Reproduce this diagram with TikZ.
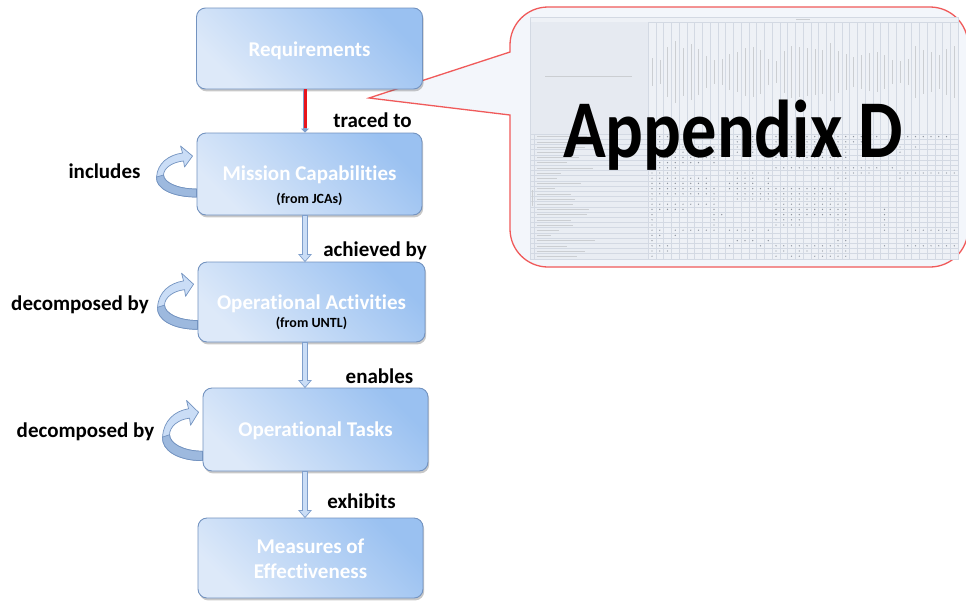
\documentclass[tikz,border=0pt]{standalone}
\usepackage{fontspec}
\setmainfont{Carlito}[Ligatures=NoCommon]
\usetikzlibrary{calc,shadows,arrows.meta}

\definecolor{boxdark}{HTML}{9AC1F1}
\definecolor{boxlight}{HTML}{DDE9F9}
\definecolor{boxline}{HTML}{7393C0}
\definecolor{calloutred}{HTML}{F05A5A}
\definecolor{calloutfill}{HTML}{F3F6FB}
\definecolor{gridline}{HTML}{D3D9E3}
\definecolor{tablefill}{HTML}{EEF1F6}
\definecolor{headfill}{HTML}{E6EAF1}
\definecolor{inkgray}{HTML}{8C929C}
\definecolor{arrowfill}{HTML}{CADDF6}
\definecolor{arrowline}{HTML}{7F9FCC}
\definecolor{loopdark}{HTML}{9DB9DE}
\definecolor{tracered}{HTML}{E8141C}

\tikzset{
  stagebox/.style={rounded corners=9pt, draw=boxline, line width=0.9pt,
    top color=boxdark, bottom color=boxlight, shading angle=-45,
    inner sep=0pt,
    drop shadow={shadow xshift=1.2pt, shadow yshift=-2.4pt, opacity=0.3, fill=black!70}},
  stagetitle/.style={text=white, font=\bfseries\fontsize{21}{25}\selectfont, inner sep=0pt},
  stagesub/.style={text=black, font=\bfseries\fontsize{14}{17}\selectfont, inner sep=0pt},
  relabel/.style={text=black, font=\bfseries\fontsize{21}{25}\selectfont, inner sep=0pt},
  flowshaft/.style={fill=arrowfill, draw=arrowline, line width=0.7pt, line join=miter},
  gridrule/.style={draw=gridline, line width=0.4pt},
  inkbar/.style={draw=inkgray!45, line width=0.5pt},
  pics/loopback/.style={code={
    % whole ribbon with its arrow head
    \filldraw[fill=arrowfill, draw=boxline, line width=0.7pt, line join=round]
      (0,23) .. controls (-25,23) and (-41,14) .. (-40,3)
      .. controls (-39,-11) and (-28,-19) .. (-14,-21)
      -- (-16,-28) -- (-4,-18) -- (-12,-7) -- (-13,-13)
      .. controls (-24,-12) and (-33,-6) .. (-33,1)
      .. controls (-33,8) and (-20,15) .. (0,15) -- cycle;
    % underside of the ribbon near the box
    \filldraw[fill=loopdark, draw=boxline, line width=0.7pt, line join=round]
      (0,23) .. controls (-25,23) and (-41,14) .. (-40,3)
      -- (-33,1) .. controls (-33,8) and (-20,15) .. (0,15) -- cycle;
  }}
}

% hollow block arrow going down between two stages
\newcommand\flowarrow[2]{%
  \path (#1.south -| ax) coordinate (fa-s) (#2.north -| ax) coordinate (fa-e);
  \filldraw[flowshaft] ($(fa-s)+(-2.5,0)$) -- ($(fa-e)+(-2.5,-7)$) -- ($(fa-e)+(-6,-7)$)
    -- (fa-e) -- ($(fa-e)+(6,-7)$) -- ($(fa-e)+(2.5,-7)$) -- ($(fa-s)+(2.5,0)$) -- cycle;}

\begin{document}
\begin{tikzpicture}[x=1pt,y=-1pt]
\useasboundingbox (0,0) rectangle (966,603);
\fill[white] (0,0) rectangle (966,603);

% ---------- callout with the traceability matrix ----------
\filldraw[fill=calloutfill, draw=calloutred, line width=1.3pt, line join=miter]
  (369,98) -- (510,115) -- (510,229) .. controls (510,250) and (527,267) .. (548,267)
  -- (930,267) .. controls (951,267) and (968,250) .. (968,229)
  -- (968,45) .. controls (968,24) and (951,7) .. (930,7)
  -- (548,7) .. controls (527,7) and (510,24) .. (510,45) -- (510,52) -- cycle;

% matrix background
\fill[tablefill] (530,17) rectangle (958,259);
\fill[headfill] (530,22) rectangle (648,134);
\fill[headfill!60!tablefill] (530,134) rectangle (648,259);

% grid
\foreach \k in {0,...,40} {
  \draw[gridrule] ({648+7.75*\k},22) -- ({648+7.75*\k},259);
}
\foreach \r in {0,...,24} {
  \draw[gridrule] (530,{134+5.2*\r}) -- (958,{134+5.2*\r});
}
\draw[gridrule] (648,22) -- (958,22);
\draw[gridrule] (534,134) -- (534,259);
\draw[gridrule] (530,17) rectangle (958,259);

% tiny header writing
\draw[inkbar] (796,19.5) -- (810,19.5);
\draw[inkbar] (545,76) -- (632,76);
\foreach \c/\len in {0/28,1/24,2/50,3/62,4/48,5/56,6/46,7/32,8/24,9/26,10/36,11/40,12/48,
  13/50,14/44,15/26,16/22,17/42,18/52,19/50,20/48,21/46,22/44,23/58,24/42,25/36,26/30,
  27/34,28/38,29/40,30/34,31/24,32/22,33/26,34/52,35/44,36/40,37/34,38/46,39/52} {
  \draw[inkbar] ({652+7.75*\c},{72-\len/2}) -- ({652+7.75*\c},{72+\len/2});
}
% row captions
\draw[inkbar] (532,190) -- (532,206);
\foreach \r/\len in {0/50,1/44,2/48,3/34,4/42,5/30,6/56,7/24,8/20,9/44,10/18,11/34,12/38,
  13/36,14/52,15/50,16/34,17/36,18/22,19/14,20/58,21/30,22/48,23/40} {
  \draw[inkbar] (537,{136.6+5.2*\r}) -- ({537+\len},{136.6+5.2*\r});
}
% entries
\foreach \r/\cs in {
  0/{0,1,2,3,7,11,13,16,17,18,19,20,21,22,23,24,25,26,27,28,29,31,33,34,35,36,37,38},
  1/{0,1,11,13,16,17,18,19,20,21,24,25,26,27},
  2/{0,1,2,3,4,5,6,7,8,11,13,16,17,18,19,20,21,22,23,24,25,32,34},
  3/{0,1,2,3,4,5,6,7,8,10,11,12,13,14,15,16,17,18,19,20,21,22,23,24,25,32},
  4/{0,1,2,3,4,5,6,7,8,16,17,18,19,20,21,22,23,24,25},
  5/{0,1,2,3,4,5,6,8},
  6/{0,1,2,3,16,17,18,19,20,21,22,23,24,25,26,27,28,29,31},
  7/{0,1,2,3,10,11,12,13,15,24,25,26,27,28,32,33,34,35,36,37,38,39},
  8/{0,1,2,3,4,5,6,7,11,12,13,15,24,25,32},
  9/{0,1,2,3,4,5,6,7,10,11,12,13,15},
  10/{0,1,2,3,4,5,6,7,8,10,11,12,13,14,15,16,17,18,19,20,21,22,23},
  11/{0,1,2,3,4,5,6,7,8,11,12,13,14,15,16,17,18,19,20,21,22,23,24,25},
  12/{0,8,11,12,13,14,15,16,17,18,19,20,21,22,23,24,25},
  13/{0,1,2,3,4,5,6,7,8,16,17,18,19,20,21,22,23,24,25},
  14/{0,1,2,3,4,8,16,17,18,19,20,21,22,23,24,25,30},
  15/{0,8,9,16,17,18,19,20,21,22,23,24,25,30},
  16/{0,8,16,17,18,19,24,25,30},
  17/{0,8,16,17,18,19,24,25,30},
  18/{0,1,3,4,5,6,7,8,10,11,12,13,15,24,25,30,33,34,35,36,37,38,39},
  19/{0,1,3},
  20/{0,11,12,13,15,24,25},
  21/{0,1,2,10,14,16,17,18,19,20,21,22,23,24,25,30,33,34,35,36,37,38,39},
  22/{0,1,2,16,17,19,20,22,23,24,25},
  23/{0,16,18,19,21,22,23,24,25}} {
  \foreach \c in \cs {
    \fill[inkgray] ({652+7.75*\c},{136.6+5.2*\r}) circle (0.7);
  }
}

\node[font=\bfseries\fontsize{82}{90}\selectfont, text=black, inner sep=0pt,
      anchor=base, xscale=0.86] (appx) at (733,157) {Appendix D};

% ---------- stages ----------
\coordinate (ax) at (305,0);

\node[stagebox, minimum width=226pt, minimum height=81pt] (req) at (309.5,48.5) {};
\node[stagetitle, anchor=base] (reqt) at ($(req.center)+(0,7.5)$) {Requirements};

\node[stagebox, minimum width=225pt, minimum height=82pt] (mc) at (309.5,174) {};
\node[stagetitle, anchor=base] (mct) at ($(mc.center)+(0,6)$) {Mission Capabilities};
\node[stagesub, anchor=base] (mcs) at ($(mc.center)+(0,29)$) {(from JCAs)};

\node[stagebox, minimum width=227pt, minimum height=80pt] (oa) at (311.5,302) {};
\node[stagetitle, anchor=base] (oat) at ($(oa.center)+(0,7)$) {Operational Activities};
\node[stagesub, anchor=base] (oas) at ($(oa.center)+(0,25)$) {(from UNTL)};

\node[stagebox, minimum width=225pt, minimum height=83pt] (ot) at (315.5,429.5) {};
\node[stagetitle, anchor=base] (ott) at ($(ot.center)+(0,6.5)$) {Operational Tasks};

\node[stagebox, minimum width=225pt, minimum height=80pt] (moe) at (310.5,558) {};
\node[stagetitle, anchor=base] (moet1) at ($(moe.center)+(0,-5)$) {Measures of};
\node[stagetitle, anchor=base] (moet2) at ($(moe.center)+(0,20)$) {Effectiveness};

% ---------- connectors ----------
\draw[draw=arrowline, line width=4.6pt, -{Triangle[length=4pt,width=8pt]}]
  (req.south -| ax) -- (mc.north -| ax);
\draw[draw=tracered, line width=3pt, shorten >=4.5pt] (req.south -| ax) -- (mc.north -| ax);

\flowarrow{mc}{oa}
\flowarrow{oa}{ot}
\flowarrow{ot}{moe}

\pic at (mc.west) {loopback};
\pic[shift={(0,2)}, yscale=1.1] at (oa.west) {loopback};
\pic[shift={(0,4)}, yscale=1.18] at (ot.west) {loopback};

% ---------- relation labels ----------
\node[relabel, anchor=base] (ltrace) at (372.5,127) {traced to};
\node[relabel, anchor=base] (lach) at (375,256) {achieved by};
\node[relabel, anchor=base] (lena) at (379.5,383) {enables};
\node[relabel, anchor=base] (lexh) at (361.5,508) {exhibits};
\node[relabel, anchor=base] (linc) at (104.5,178) {includes};
\node[relabel, anchor=base] (ldec1) at (80,310) {decomposed by};
\node[relabel, anchor=base] (ldec2) at (85.5,437) {decomposed by};
\end{tikzpicture}
\end{document}
